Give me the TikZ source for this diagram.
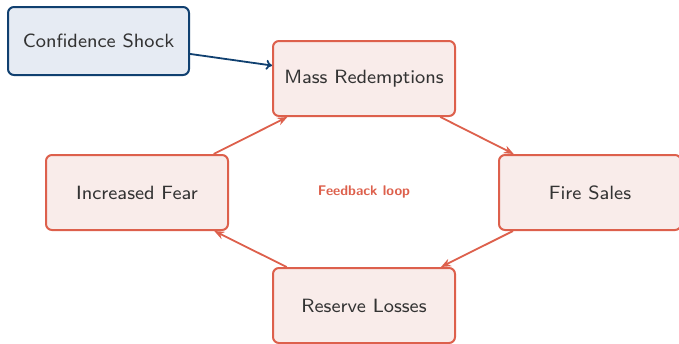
\documentclass[tikz,border=0pt]{standalone}
\usetikzlibrary{arrows.meta}
\definecolor{loopred}{RGB}{221,96,76}
\definecolor{loopfill}{RGB}{249,236,234}
\definecolor{shockblue}{RGB}{16,64,112}
\definecolor{shockfill}{RGB}{230,235,243}
\definecolor{labeltext}{RGB}{51,51,51}
% box labels: small optical size of the sans, enlarged
\newcommand\boxlabel[1]{\scalebox{1.2}{\footnotesize\sffamily #1}}
\tikzset{
  stage/.style={draw=loopred, fill=loopfill, line width=1pt, rounded corners=3pt,
    minimum width=91pt, minimum height=37.5pt, text=labeltext},
  trigger/.style={draw=shockblue, fill=shockfill, line width=1pt, rounded corners=3pt,
    minimum width=90.5pt, minimum height=34pt, text=labeltext},
  loopedge/.style={draw=loopred, line width=0.9pt, -{Stealth[length=5pt,width=4pt]}},
  shockedge/.style={draw=shockblue, line width=0.9pt, -{To[length=3pt,width=5pt]}},
}
\begin{document}
\begin{tikzpicture}[x=0.5pt, y=-0.5pt]
  \useasboundingbox (0,0) rectangle (679,343);
  \node[trigger] (shock) at (98.5,41) {\boxlabel{Confidence Shock}};
  \node[stage] (redeem) at (364,78.5) {\boxlabel{Mass Redemptions}};
  \node[stage] (fire) at (590,192.5) {\boxlabel{Fire Sales}};
  \node[stage] (losses) at (364,305.5) {\boxlabel{Reserve Losses}};
  \node[stage] (fear) at (137,192.5) {\boxlabel{Increased Fear}};
  \node[text=loopred, font=\sffamily\scriptsize\bfseries] (loop) at (364,192) {Feedback loop};
  \draw[shockedge] (shock) -- (redeem);
  \draw[loopedge] (redeem) -- (fire);
  \draw[loopedge] (fire) -- (losses);
  \draw[loopedge] (losses) -- (fear);
  \draw[loopedge] (fear) -- (redeem);
\end{tikzpicture}
\end{document}
